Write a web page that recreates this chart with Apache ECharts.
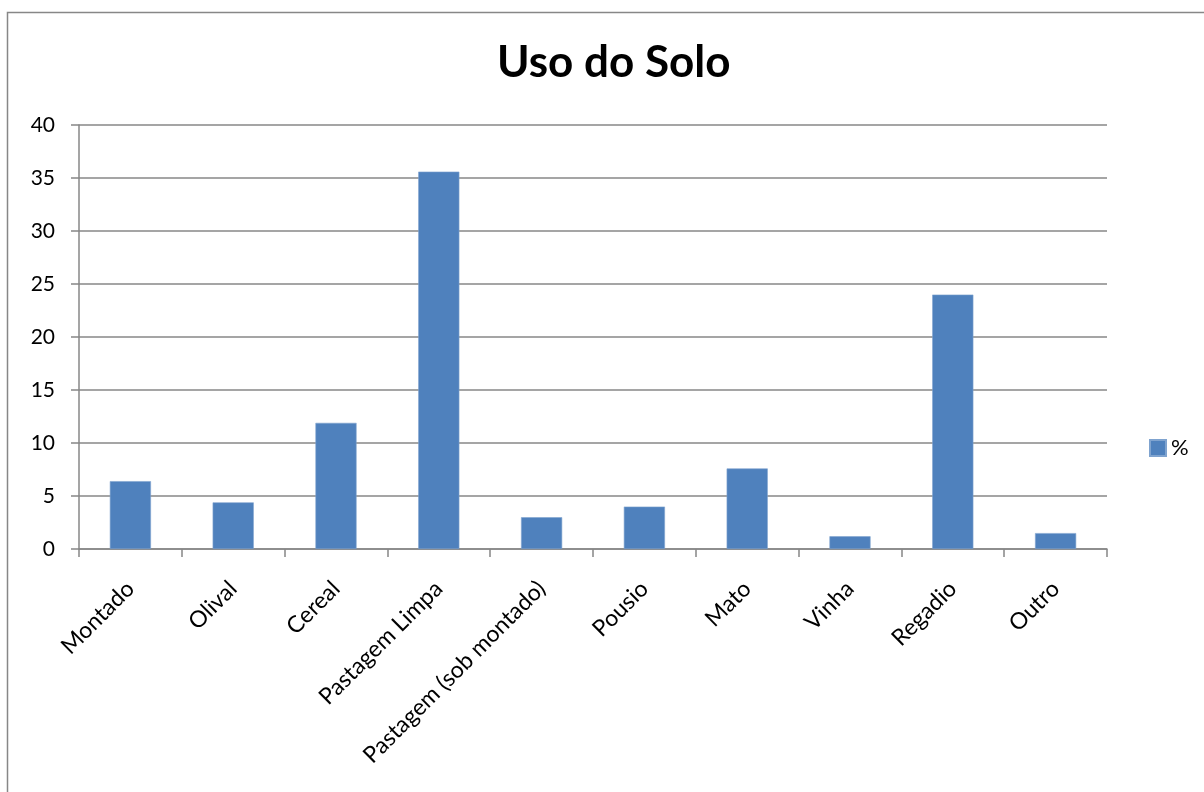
<!DOCTYPE html>
<html>
<head>
<meta charset="utf-8">
<title>Uso do Solo</title>
<script src="https://cdn.jsdelivr.net/npm/echarts@6/dist/echarts.min.js"></script>
<style>
  html, body { margin: 0; padding: 0; background: #ffffff; }
  #chart { width: 1204px; height: 792px; }
</style>
</head>
<body>
<div id="chart"></div>
<script>
// Land use shares (%)
const categories = ['Montado', 'Olival', 'Cereal', 'Pastagem Limpa', 'Pastagem (sob montado)', 'Pousio', 'Mato', 'Vinha', 'Regadio', 'Outro'];
const percentValues = [6.4, 4.4, 11.9, 35.6, 3.0, 4.0, 7.6, 1.2, 24.0, 1.5];
const seriesName = '%';
const chartTitle = 'Uso do Solo';

const FONT = 'Lato, "Open Sans", sans-serif';
const GRID_GRAY = '#878787';

const chart = echarts.init(document.getElementById('chart'), null, { renderer: 'canvas' });

chart.setOption({
  animation: false,
  backgroundColor: '#ffffff',
  textStyle: { fontFamily: FONT, color: '#000000' },
  graphic: [{
    type: 'rect',
    silent: true,
    shape: { x: 7.5, y: 12.5, width: 1400, height: 1000 },
    style: { fill: 'none', stroke: GRID_GRAY, lineWidth: 1.5 }
  }],
  title: {
    text: chartTitle,
    left: 492,
    top: 36,
    textStyle: { fontFamily: FONT, fontSize: 44, fontWeight: 'bold', color: '#000000' }
  },
  legend: {
    data: [{ name: seriesName, icon: 'rect' }],
    orient: 'vertical',
    left: 1149,
    top: 437,
    padding: 0,
    itemWidth: 16,
    itemHeight: 16,
    itemGap: 6,
    textStyle: { fontFamily: FONT, fontSize: 22, color: '#000000' }
  },
  grid: { left: 79, right: 97, top: 125, bottom: 243, containLabel: false },
  xAxis: {
    type: 'category',
    data: categories,
    axisLine: { lineStyle: { color: GRID_GRAY, width: 1.5 } },
    axisTick: { show: true, length: 8, lineStyle: { color: GRID_GRAY, width: 1.5 } },
    axisLabel: {
      rotate: 45,
      margin: 36,
      interval: 0,
      fontFamily: FONT,
      fontSize: 23,
      color: '#000000'
    }
  },
  yAxis: {
    type: 'value',
    min: 0,
    max: 40,
    interval: 5,
    axisLine: { show: true, lineStyle: { color: GRID_GRAY, width: 1.5 } },
    axisTick: { show: true, length: 8, lineStyle: { color: GRID_GRAY, width: 1.5 } },
    splitLine: { lineStyle: { color: GRID_GRAY, width: 1.5 } },
    axisLabel: { margin: 24, fontFamily: FONT, fontSize: 21, color: '#000000' }
  },
  series: [{
    name: seriesName,
    type: 'bar',
    data: percentValues,
    barWidth: '40%',
    itemStyle: { color: '#4F81BD', borderColor: '#7FA3CF', borderWidth: 0.6 }
  }]
});
</script>
</body>
</html>
